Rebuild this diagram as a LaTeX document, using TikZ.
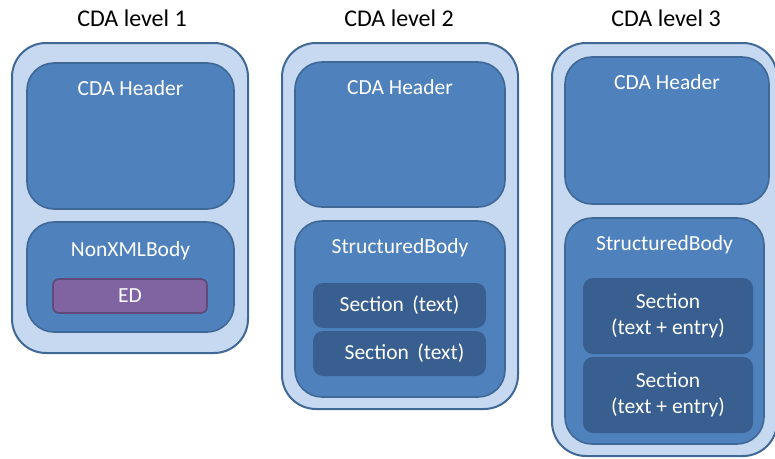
\documentclass[tikz,border=0pt]{standalone}
\usepackage{fontspec}
\setmainfont{Carlito}
\definecolor{outerfill}{HTML}{C6D9F1}
\definecolor{edgeblue}{HTML}{3F6896}
\definecolor{innerfill}{HTML}{4F81BD}
\definecolor{secfill}{HTML}{385F90}
\definecolor{edfill}{HTML}{8064A2}
\definecolor{ededge}{HTML}{5F497A}
\tikzset{
  outerbox/.style={draw=edgeblue, line width=2pt, fill=outerfill, rounded corners=34pt, inner sep=0pt},
  innerbox/.style={draw=edgeblue, line width=1.6pt, fill=innerfill, rounded corners=27pt, inner sep=0pt},
  secbox/.style={fill=secfill, rounded corners=10pt, inner sep=0pt},
  edbox/.style={draw=ededge, line width=1.6pt, fill=edfill, rounded corners=6pt, inner sep=0pt},
  title/.style={font=\fontsize{24}{28}\selectfont, text=black},
  lbl/.style={font=\fontsize{21.5}{26}\selectfont, text=white, align=center},
}
\begin{document}
\begin{tikzpicture}[x=1pt,y=-1pt]
\useasboundingbox (0,0) rectangle (775,458);
\clip (0,0) rectangle (775,458);
% Level 1
\node[title] (t1) at (132,18) {CDA level 1};
\node[outerbox, minimum width=236pt, minimum height=310pt] (o1) at (130,198) {};
\node[innerbox, minimum width=207pt, minimum height=146pt] (h1) at (130.5,136) {};
\node[lbl] (h1l) at (130.5,88) {CDA Header};
\node[innerbox, minimum width=207pt, minimum height=110pt] (b1) at (130.5,277) {};
\node[lbl] (b1l) at (130.5,251) {NonXMLBody};
\node[edbox, minimum width=154pt, minimum height=34pt] (ed) at (130,296) {};
\node[lbl] at (ed) {ED};
% Level 2
\node[title] (t2) at (399,18) {CDA level 2};
\node[outerbox, minimum width=236pt, minimum height=366pt] (o2) at (400,226) {};
\node[innerbox, minimum width=210pt, minimum height=145pt] (h2) at (400,134.5) {};
\node[lbl] (h2l) at (400,87) {CDA Header};
\node[innerbox, minimum width=210pt, minimum height=176pt] (b2) at (400,309) {};
\node[lbl] (b2l) at (400,248) {StructuredBody};
\node[secbox, minimum width=173pt, minimum height=45pt] (s21) at (399.5,305.5) {};
\node[lbl] at (s21) {Section\, (text)};
\node[secbox, minimum width=173pt, minimum height=45pt] (s22) at (399.5,353.5) {};
\node[lbl] at ([xshift=5pt]s22.center) {Section\, (text)};
% Level 3
\node[title] (t3) at (666,18) {CDA level 3};
\node[outerbox, minimum width=225pt, minimum height=413pt] (o3) at (664.5,249.5) {};
\node[innerbox, minimum width=204pt, minimum height=147pt] (h3) at (667,130.5) {};
\node[lbl] (h3l) at (667,82) {CDA Header};
\node[innerbox, minimum width=199pt, minimum height=226pt] (b3) at (664.5,331) {};
\node[lbl] (b3l) at (664.5,245) {StructuredBody};
\node[secbox, minimum width=170pt, minimum height=76pt] (s31) at (668,316) {};
\node[lbl] at (s31) {Section\\(text + entry)};
\node[secbox, minimum width=170pt, minimum height=76pt] (s32) at (668,395) {};
\node[lbl] at (s32) {Section\\(text + entry)};
\end{tikzpicture}
\end{document}
